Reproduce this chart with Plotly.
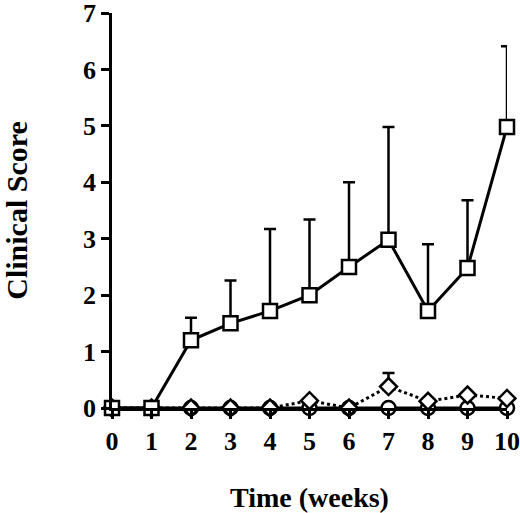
import plotly.graph_objects as go

# weeks after immunisation
weeks = [0, 1, 2, 3, 4, 5, 6, 7, 8, 9, 10]

# group 1 (open squares, solid line)
score_sq = [0, 0, 1.2, 1.5, 1.72, 2.0, 2.5, 2.98, 1.72, 2.48, 4.98]
err_sq = [0, 0, 0.4, 0.76, 1.45, 1.34, 1.5, 2.0, 1.18, 1.2, 1.43]

# group 2 (open diamonds, dotted line)
score_di = [0, 0, 0, 0, 0, 0.13, 0, 0.38, 0.12, 0.23, 0.17]
err_di = [0, 0, 0, 0, 0, 0, 0, 0.24, 0, 0, 0]

# group 3 (open circles, solid line)
score_ci = [0, 0, 0, 0, 0, 0, 0, 0, 0, 0, 0]

font_name = "Liberation Serif"

fig = go.Figure()
fig.add_scatter(x=weeks, y=score_ci, mode="lines+markers", showlegend=False,
                line=dict(color="black", width=3),
                marker=dict(symbol="circle", size=14, color="white", line=dict(width=2.5, color="black")),
                cliponaxis=False)
fig.add_scatter(x=weeks, y=score_di, mode="lines+markers", showlegend=False,
                line=dict(color="black", width=3, dash="dot"),
                marker=dict(symbol="diamond", size=13, color="white", line=dict(width=2.5, color="black")),
                error_y=dict(type="data", array=err_di, arrayminus=[0] * len(err_di),
                             color="black", thickness=2.5, width=6),
                cliponaxis=False)
fig.add_scatter(x=weeks, y=score_sq, mode="lines+markers", showlegend=False,
                line=dict(color="black", width=3),
                marker=dict(symbol="square", size=14, color="white", line=dict(width=2.5, color="black")),
                error_y=dict(type="data", array=err_sq, arrayminus=[0] * len(err_sq),
                             color="black", thickness=2.5, width=6),
                cliponaxis=False)

fig.update_layout(
    width=520, height=513,
    margin=dict(l=112, r=13, t=13, b=105),
    plot_bgcolor="white", paper_bgcolor="white",
    font=dict(family=font_name, size=26, color="black"),
    xaxis=dict(range=[0, 10], tickvals=weeks, showgrid=False, zeroline=False, automargin=False,
               showline=True, linecolor="black", linewidth=2.5,
               ticks="outside", ticklen=8, tickwidth=2.5, tickcolor="black",
               ticklabeloverflow="allow",
               tickfont=dict(family=font_name, size=26, weight="bold"),
               title=dict(text="<b>Time (weeks)</b>", standoff=36,
                          font=dict(family=font_name, size=28))),
    yaxis=dict(range=[0, 7], tickvals=[0, 1, 2, 3, 4, 5, 6, 7], showgrid=False, zeroline=False,
               automargin=False, ticklabeloverflow="allow",
               showline=True, linecolor="black", linewidth=2.5,
               ticks="outside", ticklen=8, tickwidth=2.5, tickcolor="black",
               tickfont=dict(family=font_name, size=26, weight="bold"),
               title=dict(text="<b>Clinical Score</b>", standoff=50,
                          font=dict(family=font_name, size=30))),
)

# no default page margin, so the figure sits at the window's top-left corner
fig.write_html("out.html", config={"displayModeBar": False},
               post_script="document.body.style.margin = '0';")
